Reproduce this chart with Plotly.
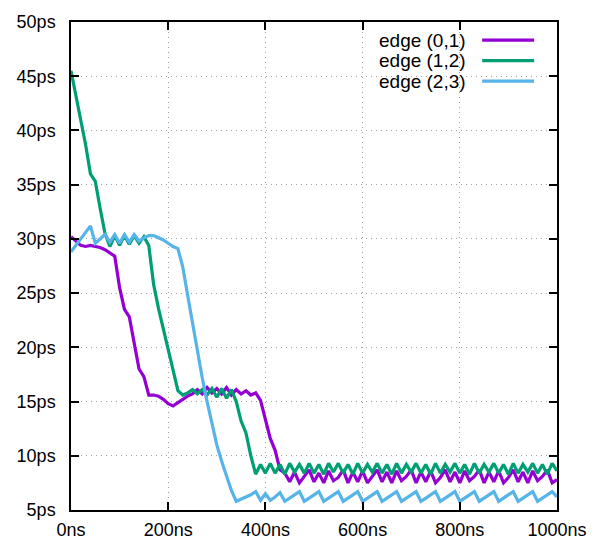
import plotly.graph_objects as go

# sample times (ns), one every 10 ns
time_ns = [i * 10 for i in range(101)]

names = ["edge (0,1)", "edge (1,2)", "edge (2,3)"]
colors = ["#9400D3", "#009E73", "#56B4E9"]

edge01 = [
    30.2, 29.8, 29.4, 29.3, 29.4, 29.3, 29.2, 29.0, 28.7, 28.4,
    25.5, 23.5, 22.8, 20.5, 18.0, 17.3, 15.6, 15.6, 15.5, 15.2,
    14.8, 14.6, 14.9, 15.2, 15.5, 15.7, 16.1, 15.7, 16.3, 15.8,
    16.2, 15.7, 16.3, 15.6, 16.1, 15.7, 16.0, 15.6, 15.8, 15.1,
    13.4, 11.6, 10.5, 8.7, 8.4, 7.6, 8.5, 7.5, 8.1, 8.7,
    7.6, 8.4, 7.5, 8.6, 7.7, 8.0, 8.7, 7.5, 8.5, 7.6,
    8.6, 7.5, 8.1, 8.7, 7.6, 8.5, 7.5, 8.6, 7.7, 8.1,
    8.7, 7.5, 8.5, 7.6, 8.6, 7.5, 8.0, 8.7, 7.6, 8.5,
    7.5, 8.6, 7.7, 8.1, 8.7, 7.5, 8.5, 7.6, 8.6, 7.5,
    8.0, 8.7, 7.6, 8.5, 7.5, 8.6, 7.7, 8.1, 8.7, 7.5,
    7.8,
]

edge12 = [
    45.5, 43.3, 41.0, 38.7, 36.0, 35.3, 32.8, 30.5, 29.3, 30.3,
    29.4, 30.3, 29.5, 30.3, 29.6, 30.2, 29.4, 25.8, 23.6, 21.7,
    19.8, 17.9, 16.0, 15.6, 15.8, 16.1, 15.7, 16.1, 15.6, 16.2,
    15.4, 16.2, 15.3, 16.1, 15.0, 13.2, 12.1, 10.0, 8.3, 9.2,
    8.4, 9.3, 8.4, 9.2, 8.3, 9.3, 8.5, 9.2, 8.4, 9.3,
    8.4, 9.2, 8.3, 9.3, 8.5, 9.3, 8.4, 9.2, 8.3, 9.3,
    8.4, 9.2, 8.5, 9.3, 8.4, 9.2, 8.3, 9.3, 8.4, 9.2,
    8.5, 9.3, 8.4, 9.2, 8.3, 9.3, 8.4, 9.2, 8.5, 9.3,
    8.4, 9.2, 8.3, 9.3, 8.4, 9.2, 8.5, 9.3, 8.4, 9.2,
    8.3, 9.3, 8.4, 9.2, 8.5, 9.3, 8.4, 9.2, 8.3, 9.3,
    8.6,
]

edge23 = [
    28.8, 29.4, 30.0, 30.6, 31.2, 29.6, 30.0, 30.4, 29.7, 30.4,
    29.6, 30.4, 29.7, 30.4, 29.8, 30.1, 30.3, 30.3, 30.1, 29.9,
    29.6, 29.3, 29.1, 27.4, 24.8, 22.2, 19.6, 17.2, 15.0, 13.0,
    11.0, 9.5, 8.2, 6.8, 5.8, 6.0, 6.2, 6.4, 6.7, 5.9,
    6.5, 5.9, 6.2, 6.6, 5.8, 6.1, 6.4, 6.7, 5.8, 6.1,
    6.4, 6.7, 5.8, 6.1, 6.4, 6.7, 5.8, 6.1, 6.4, 6.7,
    5.8, 6.1, 6.4, 6.7, 5.8, 6.1, 6.4, 6.7, 5.8, 6.1,
    6.4, 6.7, 5.8, 6.1, 6.4, 6.7, 5.8, 6.1, 6.4, 6.7,
    5.8, 6.1, 6.4, 6.7, 5.8, 6.1, 6.4, 6.7, 5.8, 6.1,
    6.4, 6.7, 5.8, 6.1, 6.4, 6.7, 5.8, 6.1, 6.4, 6.7,
    6.2,
]

x_ticks = [0, 200, 400, 600, 800, 1000]
y_ticks = [5, 10, 15, 20, 25, 30, 35, 40, 45, 50]

FONT = "Liberation Sans, Arial, sans-serif"

fig = go.Figure()
for name, col, ys in zip(names, colors, [edge01, edge12, edge23]):
    fig.add_trace(go.Scatter(
        x=time_ns, y=ys, mode="lines", name=name,
        line=dict(color=col, width=3.2), showlegend=False,
    ))

# gnuplot-style key: text right aligned, line sample to the right
for i, (name, col) in enumerate(zip(names, colors)):
    yy = 0.963 - i * 0.042
    fig.add_annotation(x=0.817, y=yy, xref="paper", yref="paper", text=name,
                       showarrow=False, xanchor="right", yanchor="middle",
                       font=dict(family=FONT, size=19, color="black"))
    fig.add_shape(type="line", xref="paper", yref="paper",
                  x0=0.846, x1=0.953, y0=yy, y1=yy,
                  line=dict(color=col, width=3.2))

axis_common = dict(
    showline=True, linecolor="black", linewidth=1.5, mirror="ticks",
    ticks="inside", ticklen=8, tickcolor="black", tickwidth=1.5,
    showgrid=True, gridcolor="#a0a0a0", griddash="1px,4px", gridwidth=1,
    zeroline=False, automargin=False,
    tickfont=dict(family=FONT, size=18, color="black"),
)

fig.update_xaxes(range=[0, 1000], tickvals=x_ticks, ticklabelstandoff=3,
                 ticktext=[f"{v}ns" for v in x_ticks], **axis_common)
fig.update_yaxes(range=[5, 50], tickvals=y_ticks, ticklabelstandoff=10,
                 ticktext=[f"{v}ps" for v in y_ticks], **axis_common)

# page body adds ~8px offset, so margins are trimmed to keep the plot area in place
fig.update_layout(
    width=598, height=551,
    margin=dict(l=63, r=49, t=14, b=49),
    plot_bgcolor="white", paper_bgcolor="white",
    font=dict(family=FONT),
)

fig.write_html("out.html")
